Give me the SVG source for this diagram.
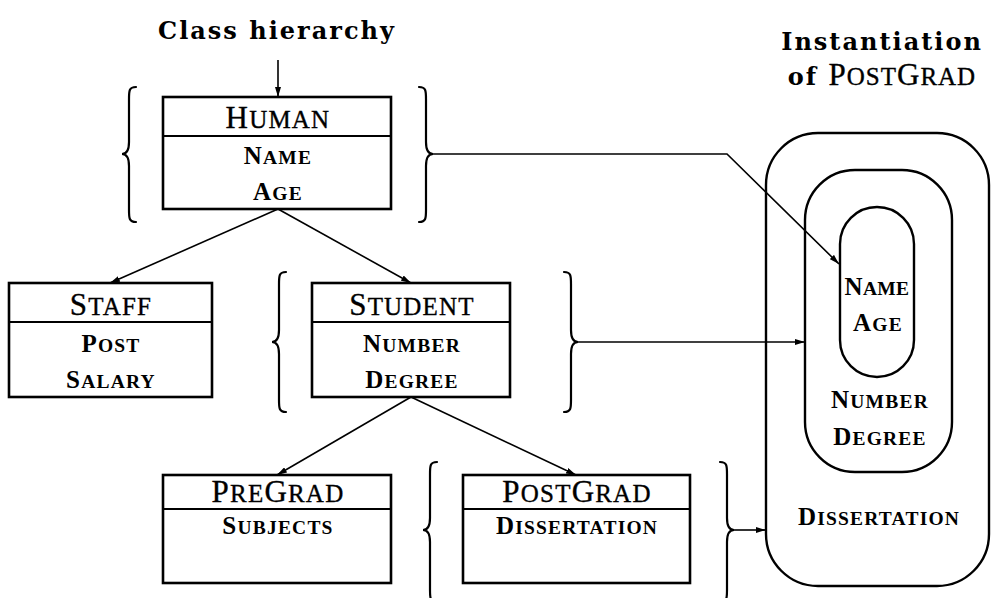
<svg xmlns="http://www.w3.org/2000/svg" width="991" height="598" viewBox="0 0 991 598">
  <style>
    .box { fill: #fff; stroke: #000; stroke-width: 2.6; }
    .div { stroke: #000; stroke-width: 2; }
    .brace { fill: none; stroke: #000; stroke-width: 2.2; stroke-linecap: round; }
    .link { fill: none; stroke: #000; stroke-width: 1.6; }
    .ring { fill: none; stroke: #000; stroke-width: 2.4; }
    .title { font-family: "DejaVu Serif", "Liberation Serif", serif; font-weight: bold; font-size: 24px; letter-spacing: 2px; fill: #000; }
    .cn { font-family: "Liberation Serif", "Times New Roman", serif; font-size: 31px; letter-spacing: 1.2px; text-anchor: middle; fill: #000; stroke: #000; stroke-width: 0.35; }
    .cn .s { font-size: 25px; }
    .at { font-family: "Liberation Serif", "Times New Roman", serif; font-weight: bold; font-size: 25px; letter-spacing: 1.2px; text-anchor: middle; fill: #000; }
    .at .s { font-size: 19.5px; }
    .tight { letter-spacing: 0.3px; }
  </style>
  <defs>
    <marker id="head" viewBox="0 0 10 6" refX="10" refY="3" markerWidth="10" markerHeight="6" markerUnits="userSpaceOnUse" orient="auto">
      <path d="M0,0 L10,3 L0,6 Z" fill="#000"/>
    </marker>
  </defs>

  <!-- headings -->
  <text class="title" x="277" y="39" text-anchor="middle">Class hierarchy</text>
  <text class="title" x="882" y="50" text-anchor="middle">Instantiation</text>
  <text x="882" y="85" text-anchor="middle"><tspan class="title" style="letter-spacing:2px">of </tspan><tspan style="font-family:'Liberation Serif',serif;font-size:31px;letter-spacing:1px;stroke:#000;stroke-width:0.35">P<tspan style="font-size:25px">OST</tspan>G<tspan style="font-size:25px">RAD</tspan></tspan></text>

  <!-- connectors -->
  <g id="connectors">
    <line class="link" x1="278" y1="60" x2="278" y2="97" marker-end="url(#head)"/>
    <line class="link" x1="278" y1="209" x2="110" y2="283" marker-end="url(#head)"/>
    <line class="link" x1="278" y1="209" x2="411" y2="283" marker-end="url(#head)"/>
    <line class="link" x1="411" y1="397" x2="277" y2="475" marker-end="url(#head)"/>
    <line class="link" x1="411" y1="397" x2="576" y2="475" marker-end="url(#head)"/>
    <path class="link" d="M433,154 H727 L839,264" marker-end="url(#head)"/>
    <path class="link" d="M578,342 H805" marker-end="url(#head)"/>
    <path class="link" d="M734,530 H766" marker-end="url(#head)"/>
  </g>

  <!-- Human -->
  <g id="human">
    <path class="brace" d="M136,87 C129,87 129,91 129,99 L129,142 C129,151 126,154 122,154 C126,154 129,157 129,166 L129,210 C129,218 129,222 136,222"/>
    <path class="brace" d="M419,87 C426,87 426,91 426,99 L426,142 C426,151 429,154 433,154 C429,154 426,157 426,166 L426,210 C426,218 426,222 419,222"/>
    <rect class="box" x="163" y="97" width="228" height="112"/>
    <line class="div" x1="163" y1="136" x2="391" y2="136"/>
    <text class="cn" x="278" y="128">H<tspan class="s">UMAN</tspan></text>
    <text class="at" x="278" y="164">N<tspan class="s">AME</tspan></text>
    <text class="at" x="278" y="200">A<tspan class="s">GE</tspan></text>
  </g>

  <!-- Staff -->
  <g id="staff">
    <rect class="box" x="9" y="283" width="203" height="114"/>
    <line class="div" x1="9" y1="322" x2="212" y2="322"/>
    <text class="cn" x="111" y="315">S<tspan class="s">TAFF</tspan></text>
    <text class="at" x="111" y="352">P<tspan class="s">OST</tspan></text>
    <text class="at" x="111" y="388">S<tspan class="s">ALARY</tspan></text>
  </g>

  <!-- Student -->
  <g id="student">
    <path class="brace" d="M286,272 C279,272 279,276 279,284 L279,330 C279,339 276,342 272,342 C276,342 279,345 279,354 L279,400 C279,408 279,412 286,412"/>
    <path class="brace" d="M564,272 C571,272 571,276 571,284 L571,330 C571,339 574,342 578,342 C574,342 571,345 571,354 L571,400 C571,408 571,412 564,412"/>
    <rect class="box" x="312" y="283" width="198" height="114"/>
    <line class="div" x1="312" y1="322" x2="510" y2="322"/>
    <text class="cn" x="412" y="315">S<tspan class="s">TUDENT</tspan></text>
    <text class="at" x="412" y="352">N<tspan class="s">UMBER</tspan></text>
    <text class="at" x="412" y="388">D<tspan class="s">EGREE</tspan></text>
  </g>

  <!-- PreGrad -->
  <g id="pregrad">
    <rect class="box" x="163" y="475" width="228" height="108"/>
    <line class="div" x1="163" y1="509" x2="391" y2="509"/>
    <text class="cn" x="278" y="502">P<tspan class="s">RE</tspan>G<tspan class="s">RAD</tspan></text>
    <text class="at" x="278" y="534">S<tspan class="s">UBJECTS</tspan></text>
  </g>

  <!-- PostGrad -->
  <g id="postgrad">
    <path class="brace" d="M437,462 C430,462 430,466 430,474 L430,518 C430,527 427,530 423,530 C427,530 430,533 430,542 L430,590 C430,598 430,602 437,602"/>
    <path class="brace" d="M720,462 C727,462 727,466 727,474 L727,518 C727,527 730,530 734,530 C730,530 727,533 727,542 L727,590 C727,598 727,602 720,602"/>
    <rect class="box" x="463" y="475" width="227" height="108"/>
    <line class="div" x1="463" y1="509" x2="690" y2="509"/>
    <text class="cn" x="577" y="502">P<tspan class="s">OST</tspan>G<tspan class="s">RAD</tspan></text>
    <text class="at" x="577" y="534">D<tspan class="s">ISSERTATION</tspan></text>
  </g>

  <!-- nested instance of PostGrad -->
  <g id="instance">
    <rect class="ring" x="766" y="133" width="223" height="453" rx="52" ry="52"/>
    <rect class="ring" x="805" y="170" width="147" height="302" rx="50" ry="50"/>
    <rect class="ring" x="840" y="207" width="74" height="170" rx="37" ry="37"/>
    <text class="at tight" x="877" y="295">N<tspan class="s">AME</tspan></text>
    <text class="at" x="878" y="331">A<tspan class="s">GE</tspan></text>
    <text class="at" x="880" y="408">N<tspan class="s">UMBER</tspan></text>
    <text class="at" x="880" y="445">D<tspan class="s">EGREE</tspan></text>
    <text class="at" x="879" y="525">D<tspan class="s">ISSERTATION</tspan></text>
  </g>
</svg>
